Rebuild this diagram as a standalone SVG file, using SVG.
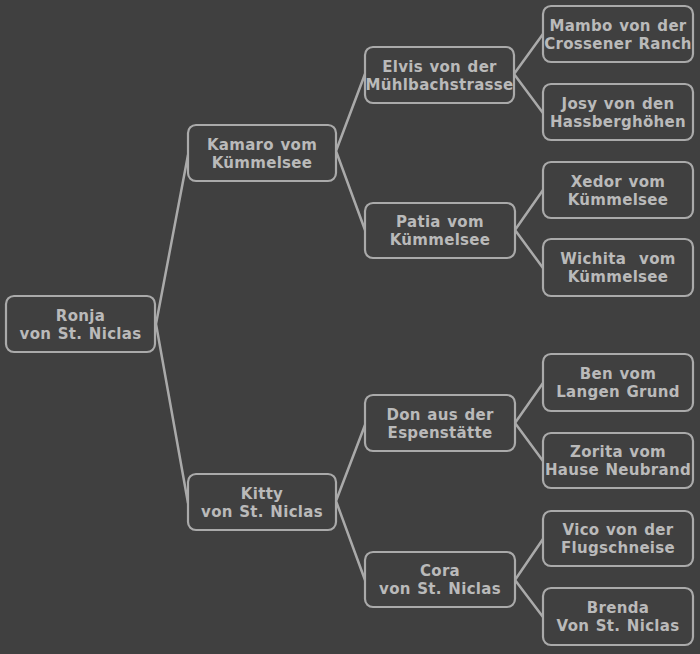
<svg xmlns="http://www.w3.org/2000/svg" width="700" height="654" viewBox="0 0 700 654">
<style>
.bg{fill:#404040}
.box{fill:#404040;stroke:#aaaaaa;stroke-width:2.2}
.t{font-family:"DejaVu Sans",Verdana,sans-serif;font-weight:bold;font-size:15px;fill:#bababa;text-anchor:middle;white-space:pre;letter-spacing:0.3px;word-spacing:1px}
.c{stroke:#aaaaaa;stroke-width:2.5;fill:none;stroke-linecap:round}
</style>
<rect class="bg" x="0" y="0" width="700" height="654"/>
<g id="connectors">
<path class="c" d="M156,324 L188,155 M156,324 L188,503"/>
<path class="c" d="M336,151 L365,74 M336,151 L365,230"/>
<path class="c" d="M336,501 L365,425 M336,501 L365,580"/>
<path class="c" d="M514,74 L543,34 M514,74 L543,113"/>
<path class="c" d="M515,230 L543,190 M515,230 L543,268"/>
<path class="c" d="M515,423 L543,383 M515,423 L543,461"/>
<path class="c" d="M515,580 L543,539 M515,580 L543,617"/>
</g>
<g id="ronja"><rect class="box" x="6" y="296" width="149" height="56" rx="8"/><text class="t" x="80.5" y="321">Ronja</text><text class="t" x="80.5" y="339">von St. Niclas</text></g>
<g id="kamaro"><rect class="box" x="188" y="125" width="148" height="56" rx="8"/><text class="t" x="262" y="150">Kamaro vom</text><text class="t" x="262" y="168">Kümmelsee</text></g>
<g id="kitty"><rect class="box" x="188" y="474" width="148" height="56" rx="8"/><text class="t" x="262" y="499">Kitty</text><text class="t" x="262" y="517">von St. Niclas</text></g>
<g id="elvis"><rect class="box" x="365" y="47" width="149" height="56" rx="8"/><text class="t" x="439.5" y="72">Elvis von der</text><text class="t" x="439.5" y="90">Mühlbachstrasse</text></g>
<g id="patia"><rect class="box" x="365" y="203" width="150" height="55" rx="8"/><text class="t" x="440" y="227">Patia vom</text><text class="t" x="440" y="245">Kümmelsee</text></g>
<g id="don"><rect class="box" x="365" y="395" width="150" height="56" rx="8"/><text class="t" x="440" y="420">Don aus der</text><text class="t" x="440" y="438">Espenstätte</text></g>
<g id="cora"><rect class="box" x="365" y="552" width="150" height="55" rx="8"/><text class="t" x="440" y="576">Cora</text><text class="t" x="440" y="594">von St. Niclas</text></g>
<g id="mambo"><rect class="box" x="543" y="6" width="150" height="56" rx="8"/><text class="t" x="618" y="31">Mambo von der</text><text class="t" x="618" y="49">Crossener Ranch</text></g>
<g id="josy"><rect class="box" x="543" y="84" width="150" height="56" rx="8"/><text class="t" x="618" y="109">Josy von den</text><text class="t" x="618" y="127">Hassberghöhen</text></g>
<g id="xedor"><rect class="box" x="543" y="162" width="150" height="56" rx="8"/><text class="t" x="618" y="187">Xedor vom</text><text class="t" x="618" y="205">Kümmelsee</text></g>
<g id="wichita"><rect class="box" x="543" y="239" width="150" height="57" rx="8"/><text class="t" x="618" y="264">Wichita  vom</text><text class="t" x="618" y="282">Kümmelsee</text></g>
<g id="ben"><rect class="box" x="543" y="354" width="150" height="57" rx="8"/><text class="t" x="618" y="379">Ben vom</text><text class="t" x="618" y="397">Langen Grund</text></g>
<g id="zorita"><rect class="box" x="543" y="433" width="150" height="55" rx="8"/><text class="t" x="618" y="457">Zorita vom</text><text class="t" x="618" y="475">Hause Neubrand</text></g>
<g id="vico"><rect class="box" x="543" y="511" width="150" height="55" rx="8"/><text class="t" x="618" y="535">Vico von der</text><text class="t" x="618" y="553">Flugschneise</text></g>
<g id="brenda"><rect class="box" x="543" y="588" width="150" height="57" rx="8"/><text class="t" x="618" y="613">Brenda</text><text class="t" x="618" y="631">Von St. Niclas</text></g>
</svg>
